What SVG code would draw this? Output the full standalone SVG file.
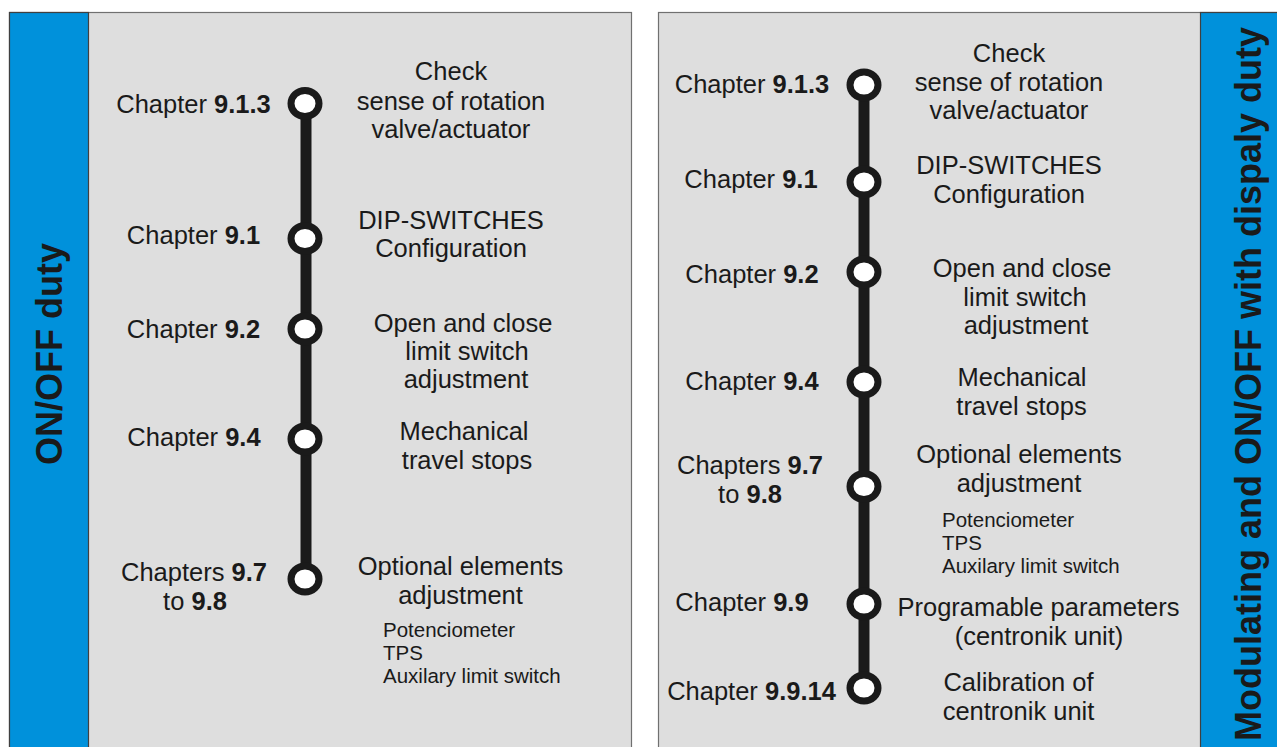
<svg xmlns="http://www.w3.org/2000/svg" width="1277" height="747" viewBox="0 0 1277 747">
<style>
.panel{fill:#dedede;stroke:#707070;stroke-width:1.2}
.bar{fill:#0091db;stroke:#404040;stroke-width:1.2}
.t{font-family:"Liberation Sans",Arial,sans-serif;font-size:25.5px;fill:#1a1a1a;text-anchor:middle}
.s{font-family:"Liberation Sans",Arial,sans-serif;font-size:20.5px;fill:#1a1a1a}
.v{font-family:"Liberation Sans",Arial,sans-serif;font-size:36px;font-weight:bold;fill:#1a1a1a;text-anchor:middle}
.b{font-weight:bold}
.node{fill:#ffffff;stroke:#1a1a1a;stroke-width:7}
.line{stroke:#1a1a1a;stroke-width:11;fill:none}
</style>
<rect width="1277" height="747" fill="#ffffff"/>
<g id="left-panel">
<rect class="panel" x="9.5" y="12.5" width="622" height="745"/>
<rect class="bar" x="9.5" y="12.5" width="79" height="745"/>
<text class="v" transform="translate(62,354) rotate(-90)">ON/OFF duty</text>
</g>
<g id="right-panel">
<rect class="panel" x="658.5" y="12.5" width="630" height="745"/>
<rect class="bar" x="1200.5" y="12.5" width="88" height="745"/>
<text class="v" transform="translate(1261,384) rotate(-90)">Modulating and ON/OFF with dispaly duty</text>
</g>
<g id="connectors">
<line class="line" x1="306" y1="103" x2="306" y2="579"/>
<line class="line" x1="864" y1="85" x2="864" y2="688"/>
</g>
<g id="L1">
<ellipse class="node" cx="305" cy="103.5" rx="14" ry="13"/>
<text class="t" x="193.5" y="113">Chapter <tspan class="b">9.1.3</tspan></text>
<text class="t" x="451" y="80">Check</text>
<text class="t" x="451" y="110">sense of rotation</text>
<text class="t" x="451" y="138">valve/actuator</text>
</g>
<g id="L2">
<ellipse class="node" cx="305" cy="238.5" rx="14" ry="13"/>
<text class="t" x="193.5" y="244">Chapter <tspan class="b">9.1</tspan></text>
<text class="t" x="451" y="229">DIP-SWITCHES</text>
<text class="t" x="451" y="257">Configuration</text>
</g>
<g id="L3">
<ellipse class="node" cx="305" cy="329" rx="14" ry="13"/>
<text class="t" x="193.5" y="338">Chapter <tspan class="b">9.2</tspan></text>
<text class="t" x="463" y="332">Open and close</text>
<text class="t" x="467" y="360">limit switch</text>
<text class="t" x="466" y="388">adjustment</text>
</g>
<g id="L4">
<ellipse class="node" cx="305" cy="439" rx="14" ry="13"/>
<text class="t" x="194" y="446">Chapter <tspan class="b">9.4</tspan></text>
<text class="t" x="464" y="440">Mechanical</text>
<text class="t" x="467" y="469">travel stops</text>
</g>
<g id="L5">
<ellipse class="node" cx="305" cy="579" rx="14" ry="13"/>
<text class="t" x="194" y="581">Chapters <tspan class="b">9.7</tspan></text>
<text class="t" x="195" y="610">to <tspan class="b">9.8</tspan></text>
<text class="t" x="460.5" y="575">Optional elements</text>
<text class="t" x="460.5" y="604">adjustment</text>
<text class="s" x="383" y="637">Potenciometer</text>
<text class="s" x="383" y="660">TPS</text>
<text class="s" x="383" y="683">Auxilary limit switch</text>
</g>
<g id="R1">
<ellipse class="node" cx="864" cy="85" rx="14" ry="13"/>
<text class="t" x="752" y="93">Chapter <tspan class="b">9.1.3</tspan></text>
<text class="t" x="1009" y="62">Check</text>
<text class="t" x="1009" y="91">sense of rotation</text>
<text class="t" x="1009" y="119">valve/actuator</text>
</g>
<g id="R2">
<ellipse class="node" cx="864" cy="182" rx="14" ry="13"/>
<text class="t" x="751" y="188">Chapter <tspan class="b">9.1</tspan></text>
<text class="t" x="1009" y="174">DIP-SWITCHES</text>
<text class="t" x="1009" y="203">Configuration</text>
</g>
<g id="R3">
<ellipse class="node" cx="864" cy="272" rx="14" ry="13"/>
<text class="t" x="752" y="283">Chapter <tspan class="b">9.2</tspan></text>
<text class="t" x="1022" y="277">Open and close</text>
<text class="t" x="1025" y="306">limit switch</text>
<text class="t" x="1026" y="334">adjustment</text>
</g>
<g id="R4">
<ellipse class="node" cx="864" cy="382" rx="14" ry="13"/>
<text class="t" x="752" y="390">Chapter <tspan class="b">9.4</tspan></text>
<text class="t" x="1022" y="386">Mechanical</text>
<text class="t" x="1021.5" y="415">travel stops</text>
</g>
<g id="R5">
<ellipse class="node" cx="864" cy="486.5" rx="14" ry="13"/>
<text class="t" x="750" y="474">Chapters <tspan class="b">9.7</tspan></text>
<text class="t" x="750" y="503">to <tspan class="b">9.8</tspan></text>
<text class="t" x="1019" y="463">Optional elements</text>
<text class="t" x="1019" y="492">adjustment</text>
<text class="s" x="942" y="527">Potenciometer</text>
<text class="s" x="942" y="550">TPS</text>
<text class="s" x="942" y="573">Auxilary limit switch</text>
</g>
<g id="R6">
<ellipse class="node" cx="864" cy="604" rx="14" ry="13"/>
<text class="t" x="742" y="611">Chapter <tspan class="b">9.9</tspan></text>
<text class="t" x="1038.5" y="616">Programable parameters</text>
<text class="t" x="1039" y="645">(centronik unit)</text>
</g>
<g id="R7">
<ellipse class="node" cx="864" cy="688" rx="14" ry="13"/>
<text class="t" x="751.5" y="700">Chapter <tspan class="b">9.9.14</tspan></text>
<text class="t" x="1018.5" y="691">Calibration of</text>
<text class="t" x="1018.5" y="720">centronik unit</text>
</g>
</svg>
